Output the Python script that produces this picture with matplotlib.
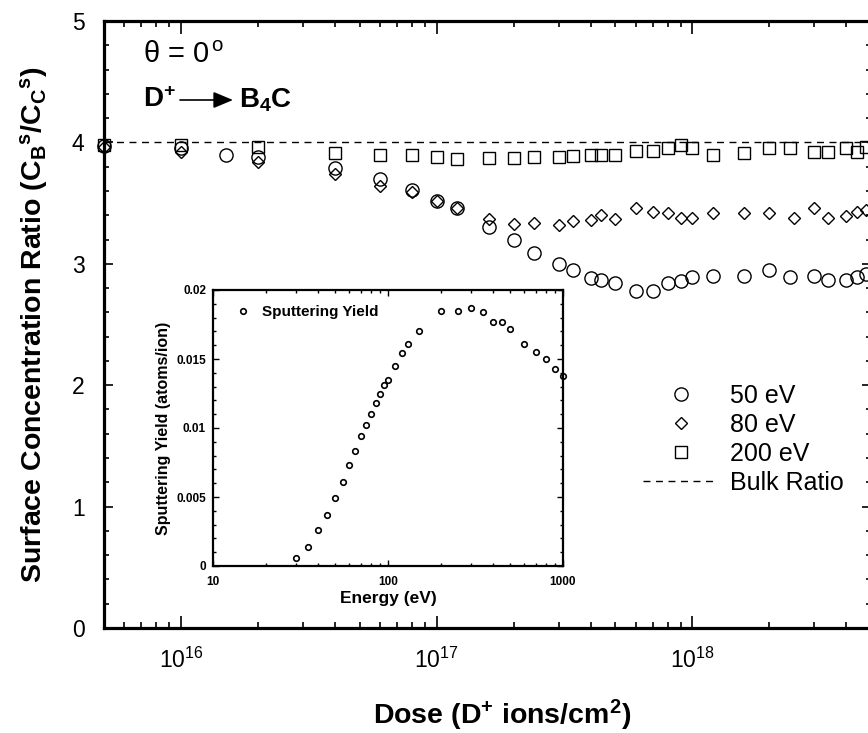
import matplotlib
matplotlib.use("Agg")
import matplotlib.pyplot as plt
from matplotlib.ticker import MultipleLocator, LogLocator, NullFormatter, FormatStrFormatter

plt.rcParams['font.family'] = 'Liberation Sans'
plt.rcParams['mathtext.fontset'] = 'custom'
plt.rcParams['mathtext.rm'] = 'Liberation Sans'
plt.rcParams['mathtext.bf'] = 'Liberation Sans:bold'
plt.rcParams['mathtext.it'] = 'Liberation Sans:italic'

# surface ratio vs dose
dose_50 = [5e15, 1e16, 1.5e16, 2e16, 4e16, 6e16, 8e16, 1e17, 1.2e17, 1.6e17, 2e17, 2.4e17,
           3e17, 3.4e17, 4e17, 4.4e17, 5e17, 6e17, 7e17, 8e17, 9e17, 1e18, 1.2e18, 1.6e18,
           2e18, 2.4e18, 3e18, 3.4e18, 4e18, 4.4e18, 4.8e18]
ratio_50 = [3.97, 3.95, 3.90, 3.88, 3.79, 3.70, 3.61, 3.52, 3.46, 3.30, 3.20, 3.09,
            3.00, 2.95, 2.88, 2.87, 2.84, 2.78, 2.78, 2.84, 2.86, 2.89, 2.90, 2.90,
            2.95, 2.89, 2.90, 2.87, 2.87, 2.89, 2.92]

dose_80 = [5e15, 1e16, 2e16, 4e16, 6e16, 8e16, 1e17, 1.2e17, 1.6e17, 2e17, 2.4e17,
           3e17, 3.4e17, 4e17, 4.4e17, 5e17, 6e17, 7e17, 8e17, 9e17, 1e18, 1.2e18, 1.6e18,
           2e18, 2.5e18, 3e18, 3.4e18, 4e18, 4.4e18, 4.8e18]
ratio_80 = [3.96, 3.92, 3.84, 3.74, 3.64, 3.59, 3.52, 3.46, 3.37, 3.33, 3.34,
            3.32, 3.35, 3.36, 3.40, 3.37, 3.46, 3.43, 3.42, 3.38, 3.38, 3.42, 3.42,
            3.42, 3.38, 3.46, 3.38, 3.39, 3.43, 3.44]

dose_200 = [5e15, 1e16, 2e16, 4e16, 6e16, 8e16, 1e17, 1.2e17, 1.6e17, 2e17, 2.4e17,
            3e17, 3.4e17, 4e17, 4.4e17, 5e17, 6e17, 7e17, 8e17, 9e17, 1e18, 1.2e18, 1.6e18,
            2e18, 2.4e18, 3e18, 3.4e18, 4e18, 4.4e18, 4.8e18]
ratio_200 = [3.98, 3.98, 3.96, 3.91, 3.90, 3.90, 3.88, 3.86, 3.87, 3.87, 3.88,
             3.88, 3.89, 3.90, 3.90, 3.90, 3.93, 3.93, 3.95, 3.98, 3.95, 3.90, 3.91,
             3.95, 3.95, 3.92, 3.92, 3.95, 3.92, 3.96]

bulk_ratio = 4.0

# inset: sputtering yield vs energy
energy = [30, 35, 40, 45, 50, 55, 60, 65, 70, 75, 80, 85, 90, 95, 100, 110, 120, 130, 150,
          200, 250, 300, 350, 400, 450, 500, 600, 700, 800, 900, 1000]
sp_yield = [0.00056, 0.0014, 0.0026, 0.0037, 0.0049, 0.0061, 0.0073, 0.0083, 0.0094, 0.0102,
            0.0110, 0.0118, 0.0125, 0.0131, 0.0135, 0.0145, 0.0154, 0.0161, 0.0170,
            0.0185, 0.0185, 0.0187, 0.0184, 0.0177, 0.0177, 0.0172, 0.0161, 0.0155,
            0.0150, 0.0143, 0.0138]

W, H = 868, 733
fig = plt.figure(figsize=(W / 100, H / 100), dpi=100)

def fx(px):
    return px / W

def fy(py):
    return 1 - py / H

# main axes (right edge runs just past the picture, as in the original)
ax = fig.add_axes([fx(104), fy(628), (871 - 104) / W, (628 - 21) / H])
mk = dict(linestyle='none', mfc='none', mec='black', mew=1.0, clip_on=False)
ax.plot(dose_50, ratio_50, marker='o', ms=9.5, label='50 eV', **mk)
ax.plot(dose_80, ratio_80, marker='D', ms=6.3, label='80 eV', **mk)
ax.plot(dose_200, ratio_200, marker='s', ms=9, label='200 eV', **mk)
ax.axhline(bulk_ratio, color='black', lw=1.0, ls=(0, (5, 4)), label='Bulk Ratio')

ax.set_xscale('log')
ax.set_xlim(5e15, 5e18)
ax.set_ylim(0, 5)
ax.yaxis.set_major_locator(MultipleLocator(1))
ax.yaxis.set_minor_locator(MultipleLocator(0.2))
ax.xaxis.set_minor_locator(LogLocator(base=10, subs=range(2, 10)))
ax.xaxis.set_minor_formatter(NullFormatter())
ax.tick_params(which='both', direction='in', top=True, right=True, width=1.2, labelsize=16.5)
ax.tick_params(axis='x', which='major', length=9, pad=14)
ax.tick_params(axis='x', which='minor', length=4.5)
ax.tick_params(axis='y', which='major', length=6.5, pad=14)
ax.tick_params(axis='y', which='minor', length=3.5)
for sp in ax.spines.values():
    sp.set_linewidth(2.3)

ax.set_xlabel(r'Dose (D$^{\mathbf{+}}$ ions/cm$^{\mathbf{2}}$)', fontsize=20.5, fontweight='bold')
ax.xaxis.set_label_coords((502 - 104) / 767, (628 - 698) / 607)
ax.set_ylabel(r'Surface Concentration Ratio (C$_{\mathbf{B}}$$^{\mathbf{s}}$/C$_{\mathbf{C}}$$^{\mathbf{s}}$)',
              fontsize=20.5, fontweight='bold')
ax.yaxis.set_label_coords((50 - 104) / 767, 0.5)

leg = ax.legend(loc='upper left', bbox_to_anchor=(fx(643), fy(384)), bbox_transform=fig.transFigure,
                frameon=False, fontsize=18, handlelength=3.0, handletextpad=0.5,
                labelspacing=0.2, borderpad=0, borderaxespad=0)

fig.text(fx(143), fy(55), r'θ = 0$^{\,\rm o}$', fontsize=21, va='center', ha='left')
fig.text(fx(143), fy(100), r'D$^{\mathbf{+}}$', fontsize=20, fontweight='bold', va='center', ha='left')
fig.text(fx(239), fy(100), r'B$_{\mathbf{4}}$C', fontsize=20, fontweight='bold', va='center', ha='left')
ax.annotate('', xy=(fx(233), fy(100)), xytext=(fx(180), fy(100)), xycoords='figure fraction',
            arrowprops=dict(arrowstyle='-|>,head_length=0.6,head_width=0.25', color='black',
                            lw=1.2, mutation_scale=20, shrinkA=0, shrinkB=0))

# inset
ins = fig.add_axes([fx(213), fy(566), (563 - 213) / W, (566 - 290) / H])
ins.plot(energy, sp_yield, linestyle='none', marker='o', ms=4, mfc='none', mec='black', mew=1.2,
         clip_on=False, label='Sputtering Yield')
ins.set_xscale('log')
ins.set_xlim(10, 1000)
ins.set_ylim(0, 0.02)
ins.yaxis.set_major_locator(MultipleLocator(0.005))
ins.yaxis.set_minor_locator(MultipleLocator(0.001))
ins.yaxis.set_major_formatter(FormatStrFormatter('%g'))
ins.xaxis.set_major_formatter(FormatStrFormatter('%g'))
ins.xaxis.set_minor_locator(LogLocator(base=10, subs=range(2, 10)))
ins.xaxis.set_minor_formatter(NullFormatter())
ins.tick_params(which='both', direction='in', top=True, right=True, width=1.0)
ins.tick_params(which='major', length=4.5)
ins.tick_params(which='minor', length=2.5)
ins.tick_params(axis='x', pad=7)
ins.tick_params(axis='y', pad=5)
for lab in ins.get_xticklabels() + ins.get_yticklabels():
    lab.set_fontsize(8.5)
    lab.set_fontweight('bold')
for sp in ins.spines.values():
    sp.set_linewidth(1.6)
ins.set_xlabel('Energy (eV)', fontsize=12.5, fontweight='bold', labelpad=2)
ins.set_ylabel('Sputtering Yield (atoms/ion)', fontsize=11.5, fontweight='bold', labelpad=4)
ins.legend(loc='upper left', bbox_to_anchor=(fx(235), fy(305)), bbox_transform=fig.transFigure,
           frameon=False, handlelength=1.0, handletextpad=0.8, borderpad=0, borderaxespad=0,
           prop={'size': 11, 'weight': 'bold'})

fig.savefig('out.png', dpi=100)
